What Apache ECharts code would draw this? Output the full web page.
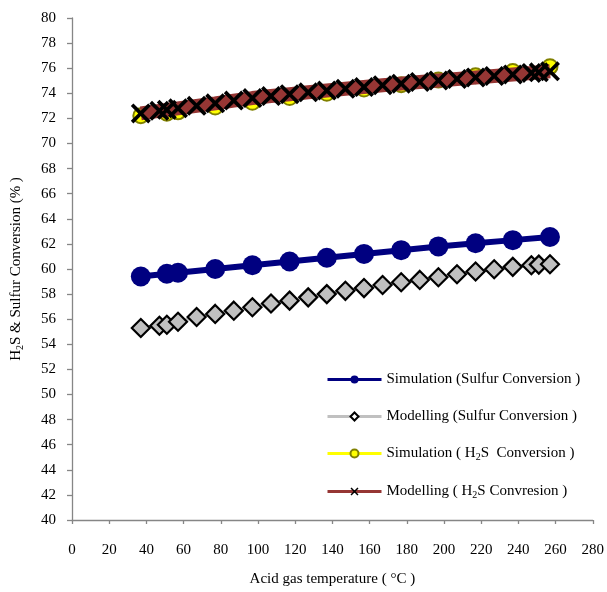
<!DOCTYPE html>
<html>
<head>
<meta charset="utf-8">
<script src="https://cdn.jsdelivr.net/npm/echarts@6/dist/echarts.min.js"></script>
<style>
  html, body { margin: 0; padding: 0; background: #ffffff; }
  #chart { width: 607px; height: 592px; }
</style>
</head>
<body>
<div id="chart"></div>
<script>
// Acid gas temperatures (°C) of the simulation runs
const simTemps = [37, 51, 57, 77, 97, 117, 137, 157, 177, 197, 217, 237, 257];
// Acid gas temperatures (°C) of the model evaluations
const modelTemps = [37, 47, 51, 57, 67, 77, 87, 97, 107, 117, 127, 137, 147, 157, 167,
                    177, 187, 197, 207, 217, 227, 237, 247, 251, 257];

// Sulfur conversion (%)
const simSulfur = [59.4, 59.62, 59.7, 60.0, 60.3, 60.6, 60.9, 61.2, 61.5, 61.8, 62.05, 62.3, 62.55];
const modelSulfur = [55.3, 55.48, 55.56, 55.8, 56.18, 56.42, 56.68, 56.95, 57.25, 57.48, 57.74,
                     58.0, 58.26, 58.48, 58.73, 58.94, 59.13, 59.34, 59.58, 59.8, 59.98, 60.17,
                     60.3, 60.35, 60.38];

// H2S conversion (%)
const simH2S = [72.22, 72.42, 72.52, 72.9, 73.28, 73.66, 74.0, 74.34, 74.68, 75.05, 75.4, 75.74, 76.12];
const modelH2S = [72.4, 72.6, 72.68, 72.8, 73.0, 73.2, 73.42, 73.62, 73.78, 73.93, 74.08, 74.22,
                  74.36, 74.5, 74.64, 74.77, 74.9, 75.02, 75.14, 75.26, 75.38, 75.5, 75.62,
                  75.67, 75.75];

// Axis ticks
const xTicks = { min: 0, max: 280, step: 20 };
const yTicks = { min: 40, max: 80, step: 2 };

const seriesNames = [
  'Simulation (Sulfur Conversion )',
  'Modelling (Sulfur Conversion )',
  'Simulation ( H2S  Conversion )',
  'Modelling ( H2S Convresion )'
];

const zip = (xs, ys) => xs.map((x, i) => [x, ys[i]]);

const FONT = "'Liberation Serif', 'Times New Roman', serif";
const AXIS_GREY = '#868686';
// filled "X" marker
const crossSymbol = 'path://M0,2.6 L2.6,0 L10,7.4 L17.4,0 L20,2.6 L12.6,10 L20,17.4 L17.4,20 L10,12.6 L2.6,20 L0,17.4 L7.4,10 Z';

const subRich = {
  sub: { fontFamily: FONT, fontSize: 10, color: '#000', padding: [7, 0, 0, 0] }
};

const chart = echarts.init(document.getElementById('chart'), null, { renderer: 'canvas' });

chart.setOption({
  animation: false,
  backgroundColor: '#ffffff',
  textStyle: { fontFamily: FONT, color: '#000' },
  grid: { left: 72, right: 13, top: 18, bottom: 72, containLabel: false },
  xAxis: {
    type: 'value',
    min: xTicks.min, max: xTicks.max, interval: xTicks.step,
    name: 'Acid gas temperature ( °C )',
    nameLocation: 'middle',
    nameGap: 52,
    nameTextStyle: { fontFamily: FONT, fontSize: 15, color: '#000' },
    axisLine: { show: true, onZero: false, lineStyle: { color: AXIS_GREY, width: 1.3 } },
    axisTick: { show: true, length: 4, lineStyle: { color: AXIS_GREY, width: 1.3 } },
    axisLabel: { fontFamily: FONT, fontSize: 15, color: '#000', margin: 23 },
    splitLine: { show: false }
  },
  yAxis: {
    type: 'value',
    min: yTicks.min, max: yTicks.max, interval: yTicks.step,
    name: 'H{sub|2}S & Sulfur Conversion (% )',
    nameLocation: 'middle',
    nameRotate: 90,
    nameGap: 47,
    nameTextStyle: { fontFamily: FONT, fontSize: 15, color: '#000', rich: subRich },
    axisLine: { show: true, onZero: false, lineStyle: { color: AXIS_GREY, width: 1.3 } },
    axisTick: { show: true, length: 5, lineStyle: { color: AXIS_GREY, width: 1.3 } },
    axisLabel: { fontFamily: FONT, fontSize: 15, color: '#000', margin: 16 },
    splitLine: { show: false }
  },
  legend: {
    orient: 'vertical',
    left: 326,
    top: 372,
    padding: 0,
    itemWidth: 54,
    itemHeight: 10,
    itemGap: 22,
    textStyle: { fontFamily: FONT, fontSize: 15, color: '#000', rich: subRich },
    formatter: (name) => name.replace('H2S', 'H{sub|2}S'),
    data: [
      { name: seriesNames[0], lineStyle: { width: 3 } },
      { name: seriesNames[1], lineStyle: { width: 3 }, itemStyle: { color: '#ffffff', borderColor: '#000', borderWidth: 2 } },
      { name: seriesNames[2], lineStyle: { width: 3 } },
      { name: seriesNames[3], lineStyle: { width: 3 } }
    ]
  },
  series: [
    {
      name: seriesNames[0],
      type: 'line',
      data: zip(simTemps, simSulfur),
      symbol: 'circle',
      symbolSize: 20,
      itemStyle: { color: '#000080' },
      lineStyle: { color: '#000080', width: 6 },
      z: 2
    },
    {
      name: seriesNames[1],
      type: 'line',
      data: zip(modelTemps, modelSulfur),
      symbol: 'diamond',
      symbolSize: 18,
      itemStyle: { color: '#c0c0c0', borderColor: '#000000', borderWidth: 2.2 },
      lineStyle: { color: '#c0c0c0', width: 3 },
      z: 3
    },
    {
      name: seriesNames[2],
      type: 'line',
      data: zip(simTemps, simH2S),
      symbol: 'circle',
      symbolSize: 15,
      itemStyle: { color: '#ffff00', borderColor: '#808000', borderWidth: 2 },
      lineStyle: { color: '#ffff00', width: 3 },
      z: 4
    },
    {
      name: seriesNames[3],
      type: 'line',
      data: zip(modelTemps, modelH2S),
      symbol: crossSymbol,
      symbolSize: 20,
      itemStyle: { color: '#000000' },
      lineStyle: { color: '#963634', width: 14 },
      z: 5
    }
  ]
});
</script>
</body>
</html>
